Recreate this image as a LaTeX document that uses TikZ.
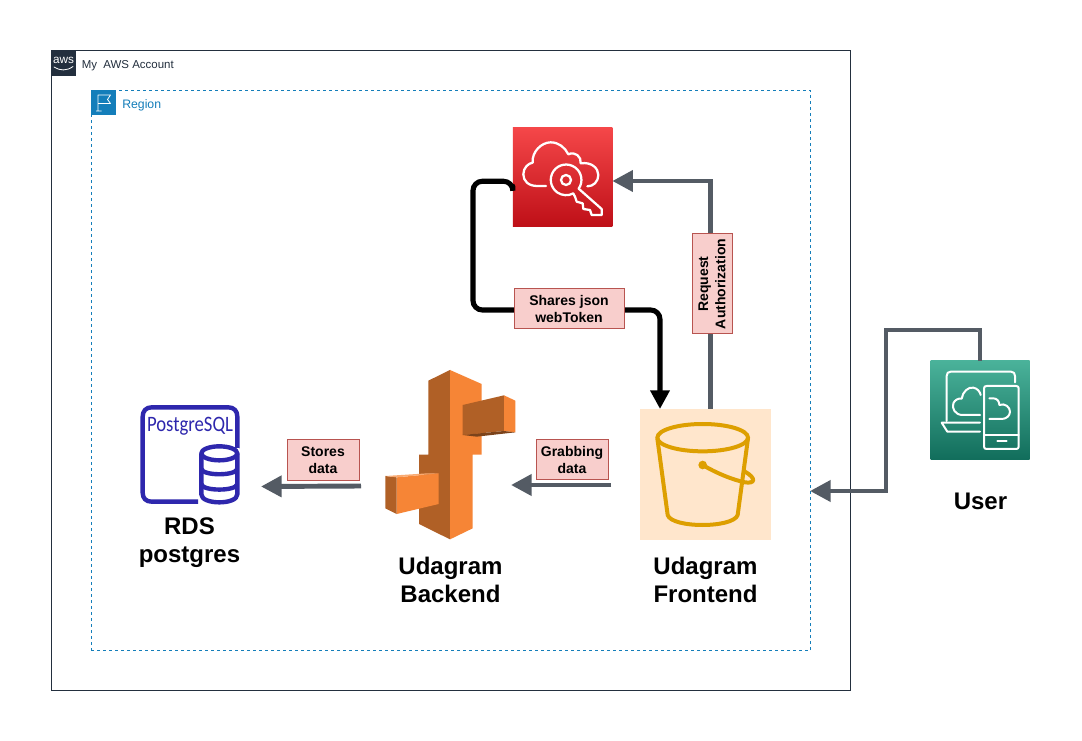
\documentclass[tikz,border=0pt]{standalone}
\usepackage{fontspec}
\setmainfont{Liberation Sans}
\newfontfamily\pgfont{Carlito}
\usetikzlibrary{arrows.meta,calc}
\definecolor{awsdark}{HTML}{232F3E}
\definecolor{regionblue}{HTML}{147EBA}
\definecolor{linegray}{HTML}{545B64}
\definecolor{lblfill}{HTML}{F8CECC}
\definecolor{lbldraw}{HTML}{B85450}
\definecolor{pgblue}{HTML}{2E27AD}
\definecolor{ecdark}{HTML}{B06026}
\definecolor{eclight}{HTML}{F68536}
\definecolor{bucket}{HTML}{DD9F00}
\definecolor{bucketbg}{HTML}{FFE6CC}
\tikzset{
  lbl/.style={draw=lbldraw,fill=lblfill,line width=0.75pt,inner sep=0pt,align=center,
    font=\fontsize{10.5pt}{13pt}\selectfont\bfseries,text=black},
  bigtitle/.style={inner sep=0pt,align=center,font=\fontsize{18pt}{21pt}\selectfont\bfseries,text=black},
  iconbox/.style={inner sep=0pt,outer sep=0pt,minimum width=#1*0.75pt,minimum height=#1*0.75pt},
  grayflow/.style={draw=linegray,line width=3.7pt,-{Triangle[length=15.5pt,width=15.5pt]}},
  blackflow/.style={draw=black,line width=3.8pt,rounded corners=7pt,line cap=round,-{Triangle[length=14pt,width=14pt]}},
  whiteicon/.style={draw=white,line width=1.5pt,line join=round,line cap=round},
  pgline/.style={draw=pgblue,line width=3.3pt,line join=round},
}
\begin{document}
\begin{tikzpicture}[x=0.75pt,y=-0.75pt]
\useasboundingbox (0,0) rectangle (1082,741);
\fill[white] (0,0) rectangle (1082,741);

% account and region groups
\node[draw=awsdark,line width=0.75pt,inner sep=0pt,minimum width=799.5*0.75pt,minimum height=639.5*0.75pt,anchor=north west] (account) at (50.5,50.5) {};
\node[draw=regionblue,line width=0.75pt,dash pattern=on 2.25pt off 2.25pt,inner sep=0pt,minimum width=719.5*0.75pt,minimum height=559.5*0.75pt,anchor=north west] (region) at (90.5,90.5) {};
\node[iconbox=25,fill=awsdark,anchor=north west] (awstag) at (51,51) {};
\node[text=white,inner sep=0pt,font=\fontsize{8.8pt}{10pt}\selectfont] (awsword) at (63.5,60) {aws};
\draw[white,line width=0.6pt,line cap=round] (54,67) .. controls (60,71) and (67,71) .. (73,66.5);
\node[anchor=west,inner sep=0pt,text=awsdark,font=\fontsize{8.6pt}{10pt}\selectfont] (accounttext) at (81.5,65.5) {My\ \ AWS Account};
\node[iconbox=25,fill=regionblue,anchor=north west] (flagtag) at (90.5,90.5) {};
\draw[white,line width=0.6pt,line join=round] (98,111) -- (98,95) -- (110.5,95) -- (107.5,99.5) -- (110.5,103.5) -- (98,103.5)
  (96,111) -- (101.5,111);
\node[anchor=west,inner sep=0pt,text=regionblue,font=\fontsize{9.2pt}{10pt}\selectfont] (regiontext) at (122,105) {Region};

% icon anchors
\node[iconbox=99.5,top color={rgb,255:red,245;green,71;blue,73},bottom color={rgb,255:red,190;green,15;blue,23},anchor=north west] (cognito) at (512.8,127.5) {};
\node[iconbox=131,fill=bucketbg,anchor=north west] (s3) at (640,409) {};
\node[iconbox=99,top color={rgb,255:red,74;green,178;blue,154},bottom color={rgb,255:red,17;green,109;blue,91},anchor=north west] (user) at (930.5,361) {};
\node[inner sep=0pt,outer sep=0pt,minimum width=100*0.75pt,minimum height=100*0.75pt,anchor=north west] (pg) at (140,405) {};
\node[inner sep=0pt,outer sep=0pt,minimum width=131*0.75pt,minimum height=170*0.75pt,anchor=north west] (ec2) at (385,370) {};

% connectors
\draw[grayflow] (user.north) -- ++(0,-31) -| (886,491) -- ($(s3.east)+(39,16.5)$);
\draw[grayflow] ($(s3.north)+(5,0)$) |- (cognito.east |- 0,181);
\draw[blackflow] ($(cognito.west)+(0,9)$) -- ($(cognito.west)+(0,4)$) -| (473,310) -| ($(s3.north)+(-45.5,0)$);
\draw[grayflow] ($(s3.west)+(-29,10.5)$) -- ($(ec2.east)+(-5,30)$);
\draw[grayflow] ($(ec2.west)+(-24,31)$) -- ($(pg.east)+(21,31.5)$);

% connector labels
\node[lbl,minimum width=110*0.75pt,minimum height=40*0.75pt] (sharesl) at (569,309) {Shares json\\webToken};
\node[lbl,rotate=90,minimum width=100*0.75pt,minimum height=40*0.75pt] (requestl) at (712,284) {Request\\Authorization};
\node[lbl,minimum width=72*0.75pt,minimum height=40*0.75pt] (grabl) at (572,460) {Grabbing\\data};
\node[lbl,minimum width=72*0.75pt,minimum height=41*0.75pt] (storesl) at (323,460.5) {Stores\\data};

% cognito icon
\begin{scope}[shift={(460,115)},x=0.25pt,y=-0.25pt]
\draw[whiteicon,line width=1.7pt] (258,213) -- (232,213) .. controls (205,213) and (190,198) .. (190,178)
  .. controls (190,158) and (205,145) .. (218,143)
  .. controls (215,110) and (245,82) .. (272,82)
  .. controls (297,82) and (315,98) .. (325,118)
  .. controls (345,108) and (365,125) .. (362,145)
  .. controls (395,140) and (415,160) .. (415,180)
  .. controls (415,200) and (400,214) .. (382,214);
\draw[whiteicon,line width=1.7pt] (356,221) -- (425,282) -- (425,300) -- (395,300) -- (390,285) -- (370,282) -- (368,265) -- (350,260) -- (345,245) -- (340,236);
\draw[whiteicon,line width=1.7pt] (356,221) arc[start angle=35,end angle=-298,radius=46];
\draw[whiteicon,line width=1.7pt] (318,195) circle[radius=15];
\end{scope}

% bucket icon
\begin{scope}[shift={(630,400)},x=0.25pt,y=-0.25pt]
\draw[bucket,line width=3pt] (218,113) ellipse[x radius=136,y radius=41];
\draw[bucket,line width=3pt,line join=round] (82,115) -- (113,345) .. controls (125,385) and (310,385) .. (323,345) -- (354,115);
\fill[bucket] (218,195) circle[radius=13];
\draw[bucket,line width=3pt,line cap=round] (218,195) .. controls (260,220) and (310,240) .. (345,247) .. controls (375,252) and (380,235) .. (345,215);
\end{scope}

% user icon
\begin{scope}[shift={(870,320)},x=0.25pt,y=-0.25pt]
\draw[whiteicon] (230,303) -- (230,168) .. controls (230,160) and (234,155) .. (242,155) -- (423,155) .. controls (431,155) and (435,160) .. (435,168) -- (435,187);
\draw[whiteicon] (330,308) -- (215,308) -- (232,335) -- (330,335);
\draw[whiteicon] (342,205) .. controls (342,200) and (345,198) .. (350,198) -- (438,198) .. controls (443,198) and (446,200) .. (446,205) -- (446,380) .. controls (446,385) and (443,387) .. (438,387) -- (350,387) .. controls (345,387) and (342,385) .. (342,380) -- cycle;
\draw[whiteicon] (342,345) -- (446,345);
\draw[whiteicon] (382,363) -- (410,363);
\draw[whiteicon] (330,285) -- (278,285) .. controls (255,285) and (245,265) .. (250,250) .. controls (254,240) and (265,234) .. (275,236) .. controls (278,215) and (295,200) .. (310,203) .. controls (322,205) and (330,215) .. (332,225);
\draw[whiteicon] (358,235) -- (370,235) .. controls (382,235) and (388,245) .. (388,255) .. controls (405,248) and (420,262) .. (420,275) .. controls (420,288) and (408,297) .. (395,297) -- (358,297);
\end{scope}

% postgres icon
\begin{scope}[shift={(120,395)},x=0.25pt,y=-0.25pt]
\draw[pgline] (234,320) -- (95,320) .. controls (78,320) and (68,310) .. (68,293) -- (68,65) .. controls (68,48) and (78,37) .. (95,37) -- (325,37) .. controls (342,37) and (352,48) .. (352,65) -- (352,160);
\fill[white] (238,160) rectangle (358,325);
\draw[pgline] (298,175) ellipse[x radius=54,y radius=21];
\draw[pgline] (244,175) -- (244,298) .. controls (244,330) and (352,330) .. (352,298) -- (352,175);
\draw[pgline] (244,222) .. controls (250,243) and (346,243) .. (352,222);
\draw[pgline] (244,268) .. controls (250,289) and (346,289) .. (352,268);
\end{scope}
\node[inner sep=0pt,text=pgblue] (pgword) at (190,426) {\pgfont\fontsize{16.5pt}{18pt}\selectfont\scalebox{0.85}[1]{PostgreSQL}};

% compute icon
\begin{scope}[shift={(370,360)},x=0.25pt,y=-0.25pt]
\fill[ecdark] (175,62) -- (240,30) -- (240,538) -- (147,492) -- (147,284) -- (175,284) -- cycle;
\fill[eclight] (240,30) -- (335,72) -- (335,284) -- (308,284) -- (308,505) -- (240,538) -- cycle;
\fill[ecdark] (278,135) -- (402,106) -- (402,213) -- (278,225) -- cycle;
\fill[eclight] (402,106) -- (436,122) -- (436,217) -- (402,213) -- cycle;
\fill[ecdark!70!black] (278,225) -- (402,213) -- (436,217) -- (320,230) -- cycle;
\fill[eclight] (80,352) -- (206,340) -- (206,432) -- (80,462) -- cycle;
\fill[ecdark] (46,348) -- (80,352) -- (80,462) -- (46,445) -- cycle;
\fill[eclight!70!white] (46,348) -- (172,340) -- (206,340) -- (80,352) -- cycle;
\end{scope}

% titles
\node[bigtitle] (pgtitle) at (189.5,543) {RDS\\postgres};
\node[bigtitle] (ec2title) at (450.5,580) {Udagram\\Backend};
\node[bigtitle] (s3title) at (705.5,580) {Udagram\\Frontend};
\node[bigtitle] (usertitle) at (980.5,501) {User};
\end{tikzpicture}
\end{document}
